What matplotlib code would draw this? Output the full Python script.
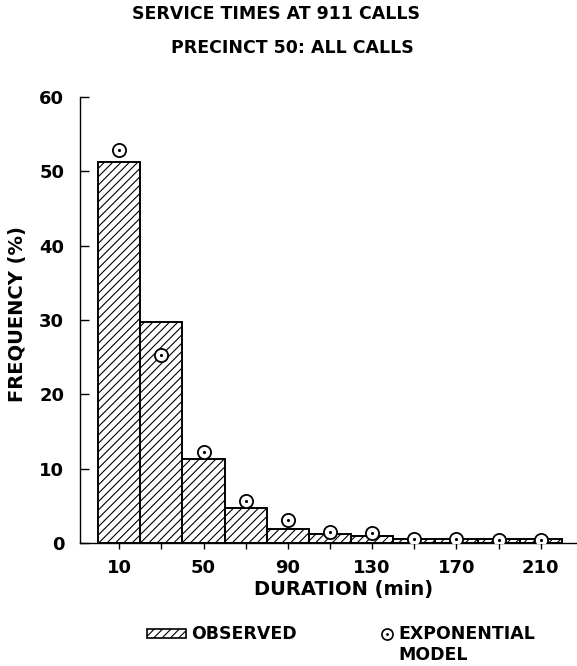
import numpy as np
import matplotlib
matplotlib.use('Agg')
import matplotlib.pyplot as plt
from matplotlib.patches import Rectangle
from matplotlib.lines import Line2D

plt.rcParams['font.family'] = ['DejaVu Sans']
plt.rcParams['font.weight'] = 'bold'
plt.rcParams['axes.labelweight'] = 'bold'
plt.rcParams['hatch.linewidth'] = 0.8

# duration bins (min), bin centres
centers = [10, 30, 50, 70, 90, 110, 130, 150, 170, 190, 210]
observed = [51.3, 29.7, 11.3, 4.75, 1.9, 1.15, 1.0, 0.5, 0.5, 0.5, 0.5]
expo = [52.8, 25.3, 12.2, 5.65, 3.05, 1.5, 1.3, 0.5, 0.5, 0.45, 0.45]
xtick_labels = ['10', '', '50', '', '90', '', '130', '', '170', '', '210']

fig = plt.figure(figsize=(5.77, 6.66), dpi=100)
ax = fig.add_axes([0.139, 0.1847, 0.861, 0.6697])

ax.bar(centers, observed, width=20, color='white', edgecolor='black',
       linewidth=1.4, hatch='////', zorder=2)
ax.plot(centers, expo, 'o', ms=9.5, mfc='white', mec='black', mew=1.3, zorder=3)
ax.plot(centers, expo, '.', ms=2.5, color='black', zorder=4)

ax.set_xlim(-8.5, 227.2)
ax.set_ylim(0, 60)
ax.spines['top'].set_visible(False)
ax.spines['right'].set_visible(False)
ax.spines['left'].set_linewidth(1.0)
ax.spines['bottom'].set_linewidth(1.0)

ax.set_xticks(centers)
ax.set_xticklabels(xtick_labels)
ax.set_yticks([0, 10, 20, 30, 40, 50, 60])
ax.tick_params(axis='x', direction='out', length=4.5, width=1.0, pad=7, labelsize=13)
ax.tick_params(axis='y', direction='in', length=6.5, width=1.0, pad=11.5, labelsize=13)

ax.set_xlabel('DURATION (min)', fontsize=14, va='center')
ax.set_ylabel('FREQUENCY (%)', fontsize=14, va='center')
ax.xaxis.set_label_coords(0.531, -0.105)
ax.yaxis.set_label_coords(-0.127, 0.513)

fig.text(0.479, 0.979, 'SERVICE TIMES AT 911 CALLS', ha='center', va='center', fontsize=12.5)
fig.text(0.506, 0.928, 'PRECINCT 50: ALL CALLS', ha='center', va='center', fontsize=12.5)

# legend
fig.patches.append(Rectangle((147 / 577, 1 - 638 / 666), 39 / 577, 9 / 666,
                             transform=fig.transFigure, facecolor='white',
                             edgecolor='black', linewidth=1.2, hatch='////'))
fig.text(191 / 577, 1 - 634 / 666, 'OBSERVED', ha='left', va='center', fontsize=12.5)
fig.lines.append(Line2D([387 / 577], [1 - 634 / 666], marker='o', ms=8, mfc='white',
                        mec='black', mew=1.2, transform=fig.transFigure))
fig.lines.append(Line2D([387 / 577], [1 - 634 / 666], marker='.', ms=2, color='black',
                        transform=fig.transFigure))
fig.text(398 / 577, 1 - 634 / 666, 'EXPONENTIAL', ha='left', va='center', fontsize=12.5)
fig.text(398 / 577, 1 - 655 / 666, 'MODEL', ha='left', va='center', fontsize=12.5)

fig.savefig('out.png', dpi=100)
